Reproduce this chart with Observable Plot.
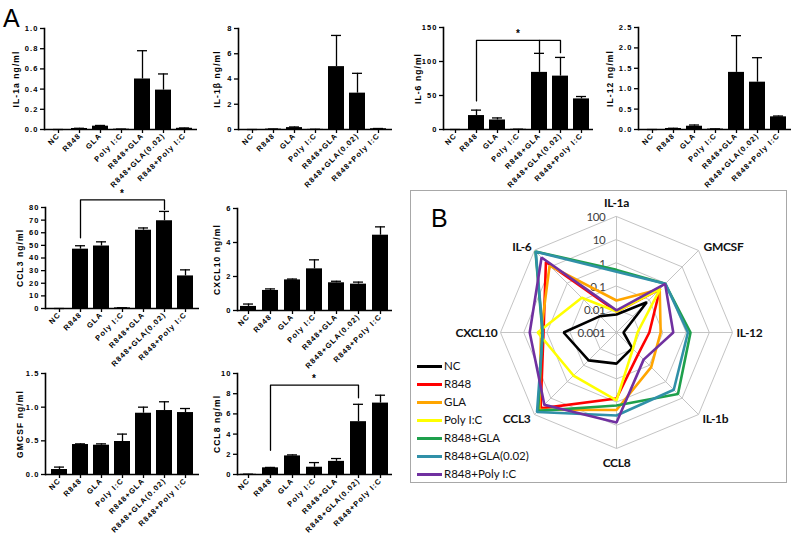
<!DOCTYPE html>
<html><head><meta charset="utf-8">
<script src="https://cdn.jsdelivr.net/npm/d3@7"></script>
<script src="https://cdn.jsdelivr.net/npm/@observablehq/plot@0.6"></script>
<style>
html,body{margin:0;padding:0;background:#fff;}
#fig{position:relative;width:800px;height:547px;background:#fff;overflow:hidden;}
.pnl{position:absolute;}
.big{position:absolute;font-family:"Liberation Sans",Arial,sans-serif;line-height:25px;font-size:25px;color:#000;}
#box{position:absolute;left:410px;top:190px;width:375px;height:291px;border:1.5px solid #a8a8a8;box-sizing:content-box;}
.leg{position:absolute;font-family:Lato,"Open Sans",sans-serif;font-size:11.5px;color:#111;line-height:14px;}
.leg span.sw{position:absolute;left:0;top:6px;width:25px;height:2.6px;}
.leg span.tx{position:absolute;left:27px;top:0;white-space:nowrap;}
</style>
</head><body>
<div id="fig">
  <div class="big" style="left:3px;top:6px">A</div>
  <div id="box"></div>
  <div class="big" style="left:431px;top:206px">B</div>
</div>
<script>
// ---------- data ----------
const cats = ["NC","R848","GLA","Poly I:C","R848+GLA","R848+GLA(0.02)","R848+Poly I:C"];

const il1aMean   = [0, 0.010, 0.033, 0.003, 0.50, 0.39, 0.012];
const il1aErr    = [0, 0.012, 0.040, 0.004, 0.78, 0.55, 0.015];
const il1bMean   = [0, 0.03, 0.15, 0.01, 4.98, 2.88, 0.06];
const il1bErr    = [0, 0.04, 0.20, 0.02, 7.45, 4.45, 0.08];
const il6Mean    = [0, 20.5, 14, 0.3, 84, 78.5, 45];
const il6Err     = [0, 28.5, 17, 0.4, 112, 106, 48.5];
const il12Mean   = [0, 0.025, 0.08, 0.01, 1.40, 1.16, 0.31];
const il12Err    = [0, 0.030, 0.11, 0.015, 2.30, 1.76, 0.33];
const ccl3Mean   = [0, 47, 49.5, 0.5, 62, 69.5, 25.8];
const ccl3Err    = [0, 49.7, 52.8, 0.6, 63.8, 76.9, 30.6];
const cxcl10Mean = [0.24, 1.18, 1.80, 2.45, 1.63, 1.55, 4.43];
const cxcl10Err  = [0.38, 1.27, 1.85, 2.98, 1.72, 1.67, 4.92];
const gmcsfMean  = [0.074, 0.445, 0.435, 0.49, 0.91, 0.95, 0.92];
const gmcsfErr   = [0.11, 0.455, 0.455, 0.60, 1.00, 1.08, 0.98];
const ccl8Mean   = [0.02, 0.66, 1.84, 0.72, 1.30, 5.23, 7.07];
const ccl8Err    = [0.03, 0.70, 1.94, 1.18, 1.58, 6.95, 7.85];

const il1aTicks = [0,0.2,0.4,0.6,0.8,1.0];
const il1bTicks = [0,2,4,6,8];
const il6Ticks = [0,50,100,150];
const il12Ticks = [0,0.5,1.0,1.5,2.0,2.5];
const ccl3Ticks = [0,10,20,30,40,50,60,70,80];
const cxcl10Ticks = [0,2,4,6];
const gmcsfTicks = [0,0.5,1.0,1.5];
const ccl8Ticks = [0,2,4,6,8,10];

// significance brackets: [category, value] path points
const il6Bracket  = [["R848",42],["R848",131],["R848+GLA(0.02)",131],["R848+GLA(0.02)",113]];
const il6Bracket2 = [["R848+GLA",131],["R848+GLA",113]];
const ccl3Bracket = [["R848",56],["R848",86],["R848+GLA(0.02)",86],["R848+GLA(0.02)",78.5]];
const ccl8Bracket = [["R848",2.4],["R848",8.85],["R848+GLA(0.02)",8.85],["R848+GLA(0.02)",7.6]];

// radar (ng/ml, log scale)
const radarAxes = ["IL-1a","GMCSF","IL-12","IL-1b","CCL8","CCL3","CXCL10","IL-6"];
const radarTicks = ["0.001","0.01","0.1","1","10","100"];
const radarNC        = [0.006, 0.07, 0.002, 0.009, 0.022, 0.05, 0.19, 0.01];
const radarR848      = [0.008, 0.45, 0.026, 0.021, 0.70, 42, 1.4, 20];
const radarGLA       = [0.024, 0.43, 0.08, 0.13, 2.2, 50, 1.8, 12];
const radarPoly      = [0.008, 0.46, 0.008, 0.010, 0.85, 0.42, 2.5, 0.13];
const radarR848GLA   = [0.50, 0.93, 1.55, 5.6, 1.4, 60, 1.55, 87];
const radarR848GLA02 = [0.42, 0.95, 1.2, 3.1, 3.8, 70, 1.5, 84];
const radarR848Poly  = [0.009, 0.92, 0.28, 0.045, 7.5, 25, 5.5, 37];
const seriesColors = ["#000000","#ff0000","#ffa500","#ffff00","#1ea04c","#3090a8","#7030a0"];

// ---------- layout ----------
const fig = document.getElementById("fig");
const panels = [
  {mean: il1aMean, err: il1aErr, ticks: il1aTicks, fmt: ".1f", label: "IL-1a ng/ml", fx0: 44, fx1: 197, fy0: 28, fy1: 129, lo: 28},
  {mean: il1bMean, err: il1bErr, ticks: il1bTicks, fmt: "d", label: "IL-1β ng/ml", fx0: 238, fx1: 392, fy0: 28, fy1: 129, lo: 21},
  {mean: il6Mean, err: il6Err, ticks: il6Ticks, fmt: "d", label: "IL-6 ng/ml", fx0: 443, fx1: 593, fy0: 27, fy1: 129, lo: 25, br: [il6Bracket, il6Bracket2]},
  {mean: il12Mean, err: il12Err, ticks: il12Ticks, fmt: ".1f", label: "IL-12 ng/ml", fx0: 638, fx1: 791, fy0: 27, fy1: 129, lo: 28},
  {mean: ccl3Mean, err: ccl3Err, ticks: ccl3Ticks, fmt: "d", label: "CCL3 ng/ml", fx0: 45, fx1: 199, fy0: 207, fy1: 308, lo: 25, br: [ccl3Bracket]},
  {mean: cxcl10Mean, err: cxcl10Err, ticks: cxcl10Ticks, fmt: "d", label: "CXCL10 ng/ml", fx0: 237, fx1: 392, fy0: 208, fy1: 310, lo: 20},
  {mean: gmcsfMean, err: gmcsfErr, ticks: gmcsfTicks, fmt: ".1f", label: "GMCSF ng/ml", fx0: 45, fx1: 199, fy0: 373, fy1: 474, lo: 25},
  {mean: ccl8Mean, err: ccl8Err, ticks: ccl8Ticks, fmt: "d", label: "CCL8 ng/ml", fx0: 237, fx1: 392, fy0: 373, fy1: 474, lo: 20, br: [ccl8Bracket]}
];

function barPanel(p) {
  const ml = 44, mr = 6, mt = 16, mb = 70;
  const data = cats.map((c, i) => ({cat: c, mean: p.mean[i], cap: p.err[i]}));
  const marks = [
    Plot.barY(data, {x: "cat", y: "mean", fill: "#000"}),
    Plot.ruleX(data, {x: "cat", y1: "mean", y2: "cap", stroke: "#000", strokeWidth: 1.3}),
    Plot.tickY(data, {x: "cat", y: "cap", stroke: "#000", strokeWidth: 1.3, insetLeft: 3, insetRight: 3}),
    Plot.axisY({ticks: p.ticks, tickFormat: d3.format(p.fmt), tickSize: 4, tickPadding: 2, strokeWidth: 1.3, label: null}),
    Plot.text([p.label], {frameAnchor: "left", textAnchor: "middle", lineAnchor: "middle", rotate: -90, dx: -p.lo, text: d => d, fontSize: 8.5, fontWeight: "bold"}),
    Plot.axisX({tickRotate: -45, tickSize: 4, tickPadding: 1, strokeWidth: 1.3, label: null}),
    Plot.ruleY([0], {stroke: "#000", strokeWidth: 1.6}),
    Plot.frame({anchor: "left", stroke: "#000", strokeWidth: 1.6})
  ];
  if (p.br) {
    p.br.forEach(seg => {
      const pts = seg.map(([c, v]) => ({cat: c, v}));
      marks.push(Plot.line(pts, {x: "cat", y: "v", stroke: "#000", strokeWidth: 1.3}));
    });
    const top = d3.max(p.br[0], d => d[1]);
    marks.push(Plot.text([{cat: cats[3], v: top}], {x: "cat", y: "v", text: () => "*", dy: -3, lineAnchor: "bottom", fontSize: 10}));
  }
  const svg = Plot.plot({
    width: p.fx1 - p.fx0 + ml + mr,
    height: p.fy1 - p.fy0 + mt + mb,
    marginLeft: ml, marginRight: mr, marginTop: mt, marginBottom: mb,
    x: {domain: cats, paddingInner: 0.26, paddingOuter: 0.15},
    y: {domain: [0, p.ticks[p.ticks.length - 1]]},
    style: {background: "transparent", fontFamily: "'Liberation Sans', Arial, sans-serif", fontWeight: "bold",
            fontSize: "7.5px", letterSpacing: "1.1px", color: "#000", overflow: "visible"},
    marks
  });
  svg.classList.add("pnl");
  svg.style.left = (p.fx0 - ml) + "px";
  svg.style.top = (p.fy0 - mt) + "px";
  fig.appendChild(svg);
}
panels.forEach(barPanel);

// ---------- radar ----------
const radarSeries = [radarNC, radarR848, radarGLA, radarPoly, radarR848GLA, radarR848GLA02, radarR848Poly];
const ang = i => i * Math.PI / 4;
const toR = v => Math.max(0, Math.log10(v) + 3);
const pts = [];
radarSeries.forEach((vals, s) => vals.forEach((v, i) => pts.push({series: cats[s], axis: radarAxes[i], r: toR(v), i})));
const rings = [];
for (let k = 1; k <= 5; k++) radarAxes.forEach((a, i) => rings.push({k, i}));

const labelCfg = [
  {anchor: "middle", dx: 0, dy: -13},
  {anchor: "start", dx: 5, dy: -3},
  {anchor: "start", dx: 4, dy: 1},
  {anchor: "start", dx: 4, dy: 5},
  {anchor: "middle", dx: 0, dy: 15},
  {anchor: "end", dx: -4, dy: 5},
  {anchor: "end", dx: -3, dy: 1},
  {anchor: "end", dx: -3, dy: -3}
];

const radarMarks = [
  Plot.line(rings, {x: d => d.k * Math.sin(ang(d.i)), y: d => d.k * Math.cos(ang(d.i)), z: "k", curve: "linear-closed", stroke: "#c4c4c4", strokeWidth: 1}),
  Plot.link(radarAxes, {x1: 0, y1: 0, x2: (d, i) => 5 * Math.sin(ang(i)), y2: (d, i) => 5 * Math.cos(ang(i)), stroke: "#c4c4c4", strokeWidth: 1}),
  Plot.text(radarTicks, {x: 0, y: (d, i) => i, text: d => d, textAnchor: "end", dx: -11, dy: 1, fontSize: 11.5, fill: "#404040"}),
  Plot.line(pts, {x: d => d.r * Math.sin(ang(d.i)), y: d => d.r * Math.cos(ang(d.i)), z: "series", stroke: "series", curve: "linear-closed", strokeWidth: 2.6, strokeLinejoin: "miter"})
];
radarAxes.forEach((a, i) => {
  const c = labelCfg[i];
  radarMarks.push(Plot.text([a], {x: 5 * Math.sin(ang(i)), y: 5 * Math.cos(ang(i)), text: d => d,
    textAnchor: c.anchor, dx: c.dx, dy: c.dy, fontSize: 12, fontWeight: "bold", fill: "#111"}));
});

const radar = Plot.plot({
  width: 377, height: 293,
  marginLeft: 90, marginRight: 55, marginTop: 26, marginBottom: 35,
  x: {domain: [-5, 5], axis: null},
  y: {domain: [-5, 5], axis: null},
  color: {domain: cats, range: seriesColors},
  style: {background: "transparent", fontFamily: "Lato, 'Open Sans', sans-serif", letterSpacing: "-0.3px", overflow: "visible"},
  marks: radarMarks
});
radar.classList.add("pnl");
radar.style.left = "410px";
radar.style.top = "190px";
fig.appendChild(radar);

// legend
cats.forEach((c, i) => {
  const d = document.createElement("div");
  d.className = "leg";
  d.style.left = "417px";
  d.style.top = (359 + i * 18) + "px";
  d.innerHTML = `<span class="sw" style="background:${seriesColors[i]}"></span><span class="tx">${c}</span>`;
  fig.appendChild(d);
});
</script>
</body></html>
